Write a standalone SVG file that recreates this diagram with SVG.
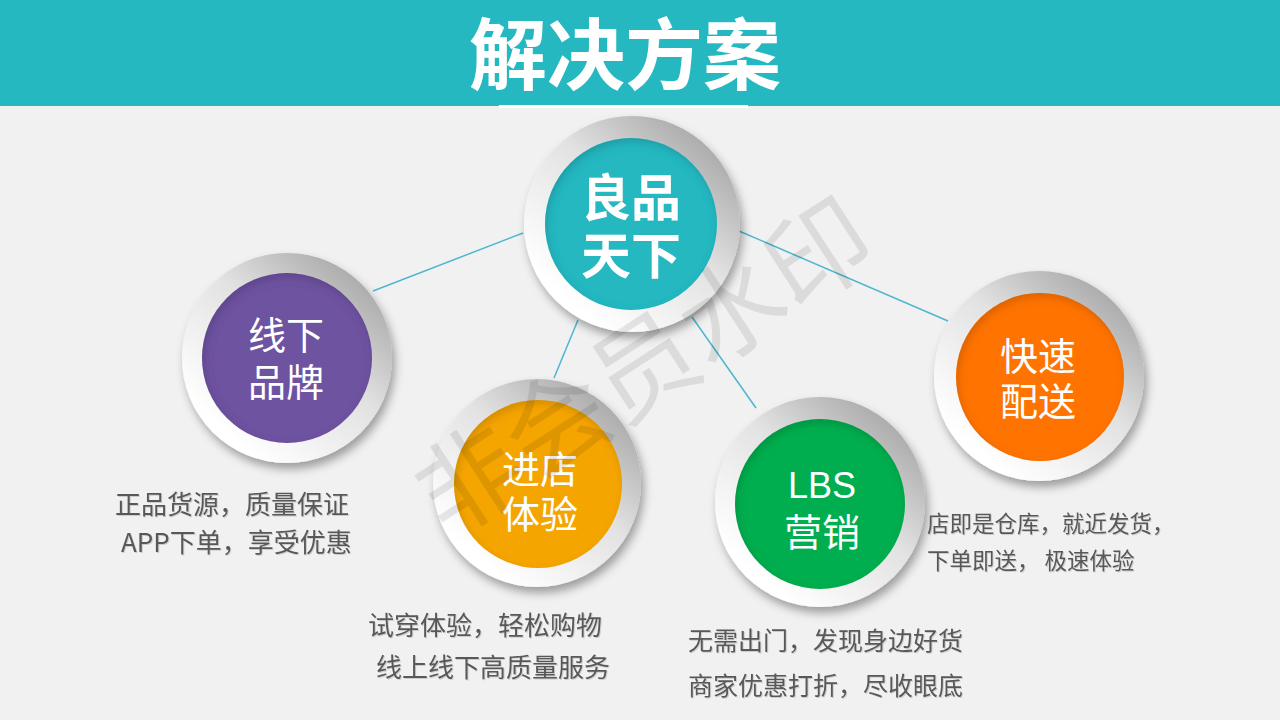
<svg xmlns="http://www.w3.org/2000/svg" width="1280" height="720" viewBox="0 0 1280 720">
<defs>
<style>
.cjk{font-family:"Noto Sans CJK SC","Liberation Sans",sans-serif;}
.title{font-size:78px;font-weight:700;fill:#fff;text-anchor:middle;}
.lbl{font-size:38px;fill:#fff;text-anchor:middle;}
.lblb{font-size:50px;font-weight:700;fill:#fff;text-anchor:middle;}
.desc{font-size:26px;fill:#595959;filter:url(#tsh);}
.desc3{font-size:25px;fill:#595959;filter:url(#tsh);}
.desc2{font-size:22.5px;fill:#595959;filter:url(#tsh);}
.conn{stroke:#4CB7CF;stroke-width:1.5;fill:none;}
.ring{fill:url(#ringGrad);filter:url(#drop);}
.wm{font-size:104px;fill:#000;fill-opacity:0.09;text-anchor:middle;}
</style>
<linearGradient id="ringGrad" x1="0.85" y1="0.1" x2="0.2" y2="0.85">
<stop offset="0" stop-color="#a9a9a9"/>
<stop offset="0.45" stop-color="#e2e2e2"/>
<stop offset="1" stop-color="#ffffff"/>
</linearGradient>
<filter id="drop" x="-30%" y="-30%" width="160%" height="160%">
<feDropShadow dx="3" dy="6" stdDeviation="5" flood-color="#000" flood-opacity="0.35"/>
</filter>
<filter id="inset" x="-30%" y="-30%" width="160%" height="160%">
<feComponentTransfer in="SourceAlpha" result="inv"><feFuncA type="table" tableValues="1 0"/></feComponentTransfer>
<feGaussianBlur in="inv" stdDeviation="4"/>
<feOffset dx="2" dy="4" result="ob"/>
<feFlood flood-color="#000" flood-opacity="0.3"/>
<feComposite in2="ob" operator="in"/>
<feComposite in2="SourceAlpha" operator="in" result="sh"/>
<feMerge><feMergeNode in="SourceGraphic"/><feMergeNode in="sh"/></feMerge>
</filter>
<filter id="tsh" x="-5%" y="-20%" width="110%" height="140%">
<feDropShadow dx="1" dy="1" stdDeviation="0.5" flood-color="#000" flood-opacity="0.15"/>
</filter>
</defs>

<rect width="1280" height="720" fill="#F1F1F1"/>

<g id="header">
<rect x="0" y="0" width="1280" height="106" fill="#25B8C1"/>
<rect x="499" y="105" width="249" height="3" fill="#ffffff"/>
<text class="cjk title" x="625" y="84">解决方案</text>
</g>

<g id="connectors">
<line class="conn" x1="523" y1="233" x2="373" y2="291"/>
<line class="conn" x1="578" y1="320" x2="554" y2="378"/>
<line class="conn" x1="692" y1="317" x2="756" y2="408"/>
<line class="conn" x1="739" y1="231" x2="948" y2="321"/>
</g>

<g id="node-center">
<circle class="ring" cx="632" cy="224" r="108"/>
<circle cx="631" cy="224" r="86" fill="#25B8C1" filter="url(#inset)"/>
<text class="cjk lblb" x="631" y="216">良品</text>
<text class="cjk lblb" x="631" y="274">天下</text>
</g>

<g id="node-offline">
<circle class="ring" cx="287" cy="358" r="105"/>
<circle cx="287" cy="358" r="85" fill="#6E52A1" filter="url(#inset)"/>
<text class="cjk lbl" x="286" y="349">线下</text>
<text class="cjk lbl" x="286" y="396">品牌</text>
</g>

<g id="node-store">
<circle class="ring" cx="537" cy="483" r="104"/>
<circle cx="538" cy="484" r="84" fill="#F5A500" filter="url(#inset)"/>
<text class="cjk lbl" x="540" y="483">进店</text>
<text class="cjk lbl" x="540" y="528">体验</text>
</g>

<g id="node-lbs">
<circle class="ring" cx="820" cy="502" r="105"/>
<circle cx="820" cy="504" r="85" fill="#00AE4F" filter="url(#inset)"/>
<text class="lbl" x="822" y="498" style="font-family:'Liberation Sans',Arial,sans-serif;font-size:36px">LBS</text>
<text class="cjk lbl" x="822" y="546">营销</text>
</g>

<g id="node-delivery">
<circle class="ring" cx="1039" cy="376" r="105"/>
<circle cx="1040" cy="377" r="84" fill="#FF7300" filter="url(#inset)"/>
<text class="cjk lbl" x="1038" y="370">快速</text>
<text class="cjk lbl" x="1038" y="415">配送</text>
</g>

<g id="descriptions">
<text class="cjk desc" x="115" y="514">正品货源，质量保证</text>
<text class="cjk desc" x="121" y="552">APP下单，享受优惠</text>
<text class="cjk desc" x="368" y="635">试穿体验，轻松购物</text>
<text class="cjk desc" x="376" y="677">线上线下高质量服务</text>
<text class="cjk desc2" x="927" y="532">店即是仓库，就近发货，</text>
<text class="cjk desc2" x="927" y="569">下单即送， 极速体验</text>
<text class="cjk desc3" x="688" y="650">无需出门，发现身边好货</text>
<text class="cjk desc3" x="688" y="695">商家优惠打折，尽收眼底</text>
</g>

<g id="watermark">
<text class="cjk wm" transform="translate(645,368) rotate(-33)" x="0" y="36">非会员水印</text>
</g>
</svg>
